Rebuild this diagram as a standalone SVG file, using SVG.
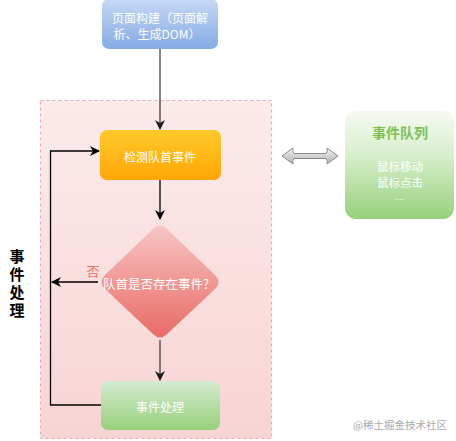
<svg xmlns="http://www.w3.org/2000/svg" width="456" height="441" viewBox="0 0 456 441">
<defs>
<linearGradient id="gBlue" x1="0" y1="0" x2="0" y2="1"><stop offset="0" stop-color="#c6d9f6"/><stop offset="1" stop-color="#85aae3"/></linearGradient>
<linearGradient id="gOrange" x1="0" y1="0" x2="0" y2="1"><stop offset="0" stop-color="#ffca2a"/><stop offset="1" stop-color="#ffa606"/></linearGradient>
<linearGradient id="gRed" x1="0" y1="0" x2="0" y2="1"><stop offset="0" stop-color="#f7c6c4"/><stop offset="1" stop-color="#e96a66"/></linearGradient>
<linearGradient id="gGreen" x1="0" y1="0" x2="0" y2="1"><stop offset="0" stop-color="#d3ead2"/><stop offset="1" stop-color="#97d179"/></linearGradient>
<linearGradient id="gPink" x1="0" y1="0" x2="0" y2="1"><stop offset="0" stop-color="#fcebeb"/><stop offset="1" stop-color="#f8d4d4"/></linearGradient>
<linearGradient id="gQueue" x1="0" y1="0" x2="0" y2="1"><stop offset="0" stop-color="#f6fbf3"/><stop offset="0.4" stop-color="#d9efcd"/><stop offset="1" stop-color="#96d07a"/></linearGradient>
<linearGradient id="gArrow" x1="0" y1="0" x2="0" y2="1"><stop offset="0" stop-color="#f4f4f4"/><stop offset="1" stop-color="#b0b0b0"/></linearGradient>
<marker id="arrK" viewBox="0 0 10 10" refX="9" refY="5" markerWidth="10" markerHeight="10" markerUnits="userSpaceOnUse" orient="auto">
<path d="M0,0 L10,5 L0,10 L3,5 z" fill="#000"/>
</marker>
<marker id="arrD" viewBox="0 0 10 10" refX="9" refY="5" markerWidth="10" markerHeight="10" markerUnits="userSpaceOnUse" orient="auto">
<path d="M0,0 L10,5 L0,10 L3,5 z" fill="#1a1a1a"/>
</marker>
</defs>
<style>
text{font-family:"Noto Sans CJK SC","Liberation Sans",sans-serif;}
.w{fill:#fff;font-size:12px;text-anchor:middle;dominant-baseline:central;}
.q{fill:#fff;font-size:11.5px;text-anchor:middle;dominant-baseline:central;}
.c{fill:none;stroke:#000;stroke-width:1.3;}
.d{fill:none;stroke:#4a3d3d;stroke-width:1.3;}
</style>
<g id="container">
<rect x="40.5" y="100.5" width="231" height="338" fill="url(#gPink)" stroke="#e9a8b0" stroke-width="1" stroke-dasharray="3,3"/>
</g>
<g id="label-side">
<text x="17" y="249" writing-mode="vertical-rl" letter-spacing="3" font-size="15" font-weight="bold" fill="#000">事件处理</text>
</g>
<g id="connectors">
<path class="d" d="M160,49 V129" marker-end="url(#arrD)"/>
<path class="c" d="M160,180 V219" marker-end="url(#arrK)"/>
<path class="d" d="M160,340 V380" marker-end="url(#arrD)"/>
<path class="c" d="M98,282 H52" marker-end="url(#arrK)"/>
<path class="c" d="M101,405 H50.5 V151 H99" marker-end="url(#arrK)"/>
<text x="93" y="270" font-size="13" fill="#f06b6b" text-anchor="middle" dominant-baseline="central">否</text>
</g>
<g id="node-page">
<rect x="102" y="-1" width="116" height="50" rx="7" fill="url(#gBlue)"/>
<text class="w" x="160" y="17">页面构建（页面解</text>
<text class="w" x="157" y="33">析、生成DOM）</text>
</g>
<g id="node-check">
<rect x="100" y="130" width="121" height="50" rx="7" fill="url(#gOrange)"/>
<text class="w" x="160" y="156">检测队首事件</text>
</g>
<g id="node-decision">
<path d="M153,229 Q160,222 167,229 L215,275 Q222,282 215,289 L167,334 Q160,341 153,334 L105,289 Q98,282 105,275 Z" fill="url(#gRed)"/>
<text class="w" x="156" y="283" style="font-size:12.5px">队首是否存在事件?</text>
</g>
<g id="node-handle">
<rect x="101" y="381" width="119" height="49" rx="7" fill="url(#gGreen)"/>
<text class="w" x="160" y="406">事件处理</text>
</g>
<g id="double-arrow">
<path d="M282,156 L293,148 Q292,152 294,153.5 L326,153.5 Q328,152 327,148 L338,156 L327,164 Q328,160 326,158.5 L294,158.5 Q292,160 293,164 Z" fill="url(#gArrow)" stroke="#8a8a8a" stroke-width="1"/>
</g>
<g id="node-queue">
<rect x="345" y="110" width="109" height="109" rx="11" fill="url(#gQueue)"/>
<text x="400" y="132" font-size="14" font-weight="bold" fill="#7cc158" text-anchor="middle" dominant-baseline="central">事件队列</text>
<text class="q" x="400" y="166">鼠标移动</text>
<text class="q" x="400" y="181.5">鼠标点击</text>
<text class="q" x="400" y="196" style="font-family:'Liberation Sans',sans-serif">...</text>
</g>
<text x="400" y="424" font-size="10.5" fill="#aaaaaa" text-anchor="middle" dominant-baseline="central">@稀土掘金技术社区</text>
</svg>
